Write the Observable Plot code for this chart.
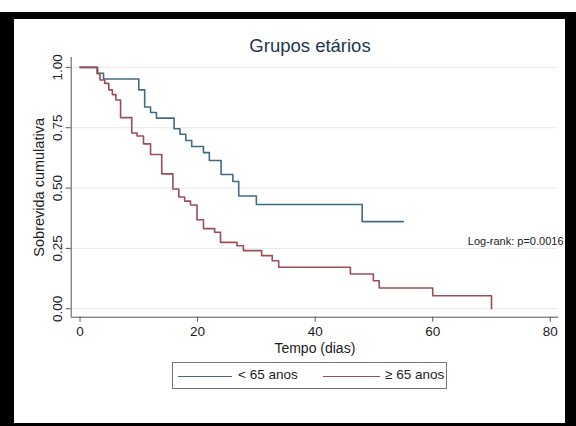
<!DOCTYPE html>
<html>
<head>
<meta charset="utf-8">
<script src="https://cdn.jsdelivr.net/npm/d3@7"></script>
<script src="https://cdn.jsdelivr.net/npm/@observablehq/plot@0.6"></script>
<style>
  html, body { margin: 0; padding: 0; background: #fff; }
  #wrap { position: relative; width: 576px; height: 426px; overflow: hidden; font-family: "Liberation Sans", Arial, sans-serif; }
  #border { position: absolute; left: 0; top: 12px; width: 576px; height: 414px; box-sizing: border-box;
            border-left: 14px solid #000; border-top: 7px solid #000; border-right: 11px solid #000; border-bottom: 3px solid #000; }
  #chart { position: absolute; left: 0; top: 0; }
  .t { position: absolute; white-space: nowrap; }
  #title { left: 0; width: 620px; top: 35px; text-align: center; font-size: 18.5px; color: #22364f; }
  #legend { position: absolute; left: 172px; top: 362px; width: 275px; height: 27px; box-sizing: border-box;
            border: 1px solid #777; font-size: 13.5px; color: #222; }
  .sw { position: absolute; top: 13px; height: 0; border-top: 1.5px solid; }
</style>
</head>
<body>
<div id="wrap">
  <div id="border"></div>
  <div id="chart"></div>
  <div id="title" class="t">Grupos etários</div>
  <div id="legend"></div>
</div>
<script>
// ---- data ----
const seriesNames = ["< 65 anos", "\u2265 65 anos"];
const seriesColors = ["#416b84", "#9e4c55"];
const blueTime = [0, 3, 4, 10, 11, 12, 13, 16, 17, 18, 19, 21, 22, 24, 26, 27, 30, 48, 55];
const blueSurv = [1.0, 0.976, 0.952, 0.907, 0.836, 0.813, 0.790, 0.746, 0.723, 0.697, 0.672, 0.647, 0.614, 0.556, 0.527, 0.467, 0.432, 0.361, 0.361];
const redTime = [0, 2.9, 3.4, 4.2, 4.9, 5.5, 6.1, 6.9, 8.8, 9.7, 10.8, 12.0, 13.9, 15.8, 16.8, 17.8, 18.8, 19.9, 21.0, 22.9, 23.9, 26.7, 27.8, 30.9, 32.7, 33.8, 46.0, 49.9, 50.9, 60.0, 70.0];
const redSurv = [1.0, 0.974, 0.948, 0.934, 0.907, 0.887, 0.865, 0.792, 0.728, 0.716, 0.683, 0.639, 0.559, 0.496, 0.463, 0.446, 0.430, 0.369, 0.332, 0.317, 0.275, 0.261, 0.241, 0.220, 0.199, 0.172, 0.144, 0.116, 0.086, 0.054, 0.0];
const xTicks = [0, 20, 40, 60, 80];
const yTicks = [0, 0.25, 0.5, 0.75, 1];
const xLabel = "Tempo (dias)";
const yLabel = "Sobrevida cumulativa";
const annotation = "Log-rank: p=0.0016";

const xDomain = [-1.5, 81.4];
const yDomain = [-0.035, 1.041];

const blueRows = blueTime.map((t, i) => ({t, s: blueSurv[i]}));
const redRows = redTime.map((t, i) => ({t, s: redSurv[i]}));

const axisColor = "#555";
const chart = Plot.plot({
  width: 576,
  height: 426,
  marginLeft: 70.7,
  marginRight: 18,
  marginTop: 57,
  marginBottom: 109.3,
  style: {background: "transparent", fontFamily: "'Liberation Sans', Arial, sans-serif", color: "#222"},
  x: {domain: xDomain},
  y: {domain: yDomain},
  marks: [
    Plot.gridY(yTicks, {stroke: "#e6eaee", strokeOpacity: 1, strokeWidth: 1}),
    Plot.ruleX([xDomain[0]], {stroke: axisColor, strokeWidth: 1}),
    Plot.ruleY([yDomain[0]], {stroke: axisColor, strokeWidth: 1}),
    Plot.axisX({ticks: xTicks, tickSize: 5, tickPadding: 4, fontSize: 13.5, label: null, stroke: axisColor, color: "#222"}),
    Plot.axisY({ticks: yTicks, tickSize: 5, tickFormat: () => "", label: null, stroke: axisColor}),
    Plot.text(yTicks, {y: d => d, frameAnchor: "left", dx: -14, rotate: -90, text: d => d.toFixed(2), fontSize: 13.5, textAnchor: "middle", lineAnchor: "middle", fill: "#222"}),
    Plot.text([yLabel], {frameAnchor: "left", dx: -32, rotate: -90, fontSize: 14.5, textAnchor: "middle", lineAnchor: "middle", fill: "#222"}),
    Plot.text([xLabel], {frameAnchor: "bottom", dy: 31.5, fontSize: 14, textAnchor: "middle", lineAnchor: "middle", fill: "#222"}),
    Plot.text([annotation], {frameAnchor: "right", dx: 5, dy: 54.5, fontSize: 11, textAnchor: "end", lineAnchor: "middle", fill: "#222"}),
    Plot.line(blueRows, {x: "t", y: "s", curve: "step-after", stroke: seriesColors[0], strokeWidth: 1.6}),
    Plot.line(redRows, {x: "t", y: "s", curve: "step-after", stroke: seriesColors[1], strokeWidth: 1.6})
  ]
});
document.getElementById("chart").appendChild(chart);

// legend
const lg = document.getElementById("legend");
const items = [
  {sw: [5, 59], tx: 65},
  {sw: [150, 207], tx: 212}
];
seriesNames.forEach((name, i) => {
  const sw = document.createElement("div");
  sw.className = "sw";
  sw.style.left = items[i].sw[0] + "px";
  sw.style.width = (items[i].sw[1] - items[i].sw[0]) + "px";
  sw.style.borderTopColor = seriesColors[i];
  lg.appendChild(sw);
  const tx = document.createElement("div");
  tx.className = "t";
  tx.style.left = items[i].tx + "px";
  tx.style.top = "4px";
  tx.textContent = name;
  lg.appendChild(tx);
});
</script>
</body>
</html>
